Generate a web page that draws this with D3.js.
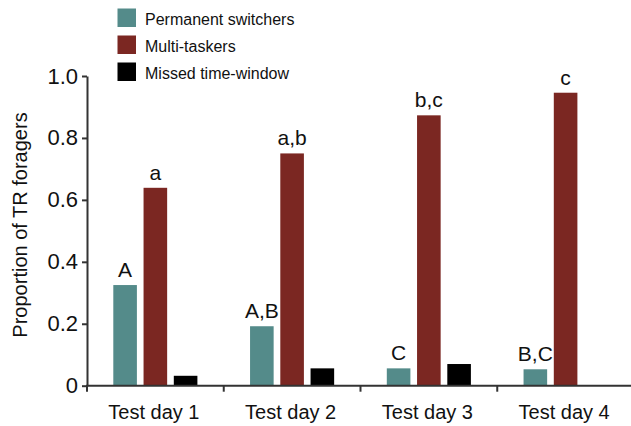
<!DOCTYPE html>
<html>
<head>
<meta charset="utf-8">
<script src="https://cdn.jsdelivr.net/npm/d3@7"></script>
<style>
  html, body { margin: 0; padding: 0; background: #fff; }
  svg { display: block; font-family: "Liberation Sans", Arial, Helvetica, sans-serif; }
</style>
</head>
<body>
<svg id="chart" width="631" height="426"></svg>
<script>
// Test days along the x axis
const days = ["Test day 1", "Test day 2", "Test day 3", "Test day 4"];
// Series names and colours
const seriesNames = ["Permanent switchers", "Multi-taskers", "Missed time-window"];
const seriesColors = ["#548b8a", "#7b2722", "#000000"];
// Proportion of TR foragers per day, one array per series
const switchers = [0.325, 0.192, 0.056, 0.053];
const multitaskers = [0.639, 0.750, 0.873, 0.946];
const missed = [0.032, 0.056, 0.070, 0];
// Significance letters above bars
const switcherLetters = ["A", "A,B", "C", "B,C"];
const multitaskerLetters = ["a", "a,b", "b,c", "c"];
// Y tick values and labels
const yTicks = [0, 0.2, 0.4, 0.6, 0.8, 1.0];
const yTickLabels = ["0", "0.2", "0.4", "0.6", "0.8", "1.0"];

const svg = d3.select("#chart");
const axisColor = "#333";
const textColor = "#111";

const x = d3.scaleBand().domain(days).range([87, 634]);
const inner = d3.scaleBand().domain(seriesNames).range([26.3, 136.7 - 26.3]).paddingInner(0.22);
const y = d3.scaleLinear().domain([0, 1]).range([385.7, 76]);

const seriesData = [switchers, multitaskers, missed];
const letterData = [switcherLetters, multitaskerLetters, null];

// Bars with their significance letters
seriesNames.forEach((name, si) => {
  const g = svg.append("g");
  days.forEach((d, di) => {
    const v = seriesData[si][di];
    if (v <= 0) return;
    g.append("rect")
      .attr("x", x(d) + inner(name))
      .attr("y", y(v))
      .attr("width", inner.bandwidth())
      .attr("height", y(0) - y(v))
      .attr("fill", seriesColors[si]);
    if (letterData[si]) {
      g.append("text")
        .attr("x", x(d) + inner(name) + inner.bandwidth() / 2)
        .attr("y", y(v) - 8)
        .attr("text-anchor", "middle")
        .attr("font-size", 21)
        .attr("fill", textColor)
        .text(letterData[si][di]);
    }
  });
});

// Y axis
const yAxis = d3.axisLeft(y)
  .tickValues(yTicks)
  .tickFormat((d, i) => yTickLabels[i])
  .tickSize(5)
  .tickSizeOuter(0)
  .tickPadding(4);
const gy = svg.append("g").attr("transform", "translate(87,0)").call(yAxis);
gy.select(".domain").attr("stroke", axisColor).attr("stroke-width", 2);
gy.selectAll(".tick line").attr("stroke", axisColor).attr("stroke-width", 2);
gy.selectAll(".tick text").attr("font-size", 22).attr("fill", textColor)
  .attr("font-family", "Liberation Sans, Arial, sans-serif");

// X axis: ticks mark the category boundaries
const gx = svg.append("g").attr("transform", `translate(0,${y(0)})`);
gx.append("line")
  .attr("x1", 86).attr("x2", 631)
  .attr("stroke", axisColor).attr("stroke-width", 2);
gx.selectAll(".boundary")
  .data(days)
  .join("line")
  .attr("class", "boundary")
  .attr("x1", d => x(d)).attr("x2", d => x(d))
  .attr("y1", 0).attr("y2", 6)
  .attr("stroke", axisColor).attr("stroke-width", 2);
gx.selectAll(".label")
  .data(days)
  .join("text")
  .attr("class", "label")
  .attr("x", d => x(d) + x.bandwidth() / 2 - 1.5)
  .attr("y", 33.6)
  .attr("text-anchor", "middle")
  .attr("font-size", 20)
  .attr("fill", textColor)
  .text(d => d);

// Y axis title
svg.append("text")
  .attr("transform", `translate(27,225) rotate(-90)`)
  .attr("text-anchor", "middle")
  .attr("font-size", 20)
  .attr("fill", textColor)
  .text("Proportion of TR foragers");

// Legend
const legend = svg.append("g").attr("transform", "translate(117.5,8.5)");
seriesNames.forEach((name, i) => {
  const row = legend.append("g").attr("transform", `translate(0,${i * 27})`);
  row.append("rect").attr("width", 18.5).attr("height", 18.5).attr("fill", seriesColors[i]);
  row.append("text")
    .attr("x", 27.5)
    .attr("y", 16)
    .attr("font-size", 16)
    .attr("fill", textColor)
    .text(name);
});
</script>
</body>
</html>
